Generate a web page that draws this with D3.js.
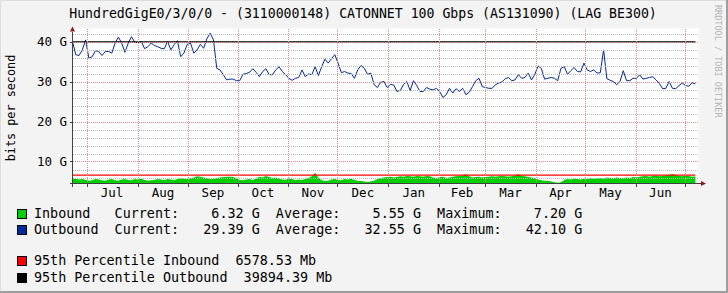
<!DOCTYPE html>
<html>
<head>
<meta charset="utf-8">
<script src="https://d3js.org/d3.v7.min.js"></script>
<style>
  html, body { margin: 0; padding: 0; background: #f3f3f3; }
  svg { display: block; }
  text { font-family: "DejaVu Sans Mono", monospace; white-space: pre; }
</style>
</head>
<body>
<svg id="chart" width="728" height="293"></svg>
<script>
'use strict';

// one sample every 2 days, starting at startDate (UTC)
var startDate = new Date(Date.UTC(2022, 5, 22, 8, 10));
var endDate = new Date(Date.UTC(2023, 6, 9, 13, 0));
var stepDays = 2;

// values in Gbit/s
var outbound = [
    40.0, 36.7, 36.5, 37.9, 40.4, 35.8, 36.2, 37.7, 37.5, 36.5,
    37.5, 37.5, 37.1, 39.6, 41.1, 39.6, 37.3, 39.6, 41.2, 39.8,
    39.7, 40.0, 38.2, 38.7, 39.6, 39.0, 38.7, 38.3, 38.2, 40.0,
    37.9, 39.2, 40.2, 36.2, 37.1, 39.3, 39.6, 37.1, 37.9, 39.3,
    38.3, 40.7, 42.1, 40.4, 33.3, 32.9, 31.7, 30.4, 30.6,
    30.6, 30.2, 30.2, 31.8, 32.0, 32.3, 33.2, 32.3, 31.2, 32.5,
    33.2, 31.7, 31.7, 32.9, 33.7, 32.5, 31.7, 30.8, 30.3, 30.8,
    31.0, 32.9, 31.2, 31.9, 31.7, 33.7, 31.5, 33.7, 35.6, 34.6,
    35.7, 36.7, 34.6, 32.2, 32.5, 32.1, 32.0, 30.8, 32.9, 34.0,
    33.3, 31.8, 32.1, 29.2, 28.5, 29.8, 30.0,
    28.5, 29.3, 29.1, 27.5, 27.8, 29.3, 30.0, 27.7, 30.2, 29.0,
    27.5, 27.5, 28.5, 28.1, 27.9, 28.3, 27.5, 26.0, 26.7, 28.3,
    27.1, 28.2, 27.5, 28.3, 26.7, 27.3, 28.7, 30.2, 30.8, 28.7,
    28.5, 28.3, 28.3, 29.2, 29.6, 29.9, 30.7, 31.0, 30.2, 30.4,
    31.7, 30.8, 31.0, 32.1, 30.4, 31.7, 33.9, 33.3,
    30.6, 30.8, 31.0, 30.8, 30.2, 33.3, 33.7, 31.8, 32.7, 33.5,
    32.5, 32.4, 34.6, 32.9, 32.5, 32.9, 32.1, 32.2, 37.9, 30.7,
    30.3, 30.0, 29.2, 30.0, 32.7, 30.2, 30.2, 30.8, 30.8, 31.7,
    30.6, 30.8, 31.0, 31.2, 30.4, 29.5, 28.2, 28.3, 30.0, 28.3,
    28.2, 29.0, 29.6, 29.0, 28.8, 29.7, 29.4
];

var inbound = [
    5.6, 5.7, 5.5, 5.6, 5.4, 5.2, 5.3, 5.6, 5.5, 5.3,
    5.2, 5.5, 5.6, 5.3, 5.2, 5.5, 5.6, 5.4, 5.3, 5.6,
    5.5, 5.7, 5.4, 5.2, 5.3, 5.4, 5.6, 5.5, 5.3, 5.6,
    5.5, 5.3, 5.6, 5.8, 5.7, 5.6, 5.8, 6.0, 6.3, 6.2,
    6.0, 5.8, 5.6, 5.7, 5.9, 6.0, 6.1, 6.2, 6.2, 6.1,
    5.8, 5.4, 5.3, 5.5, 5.6, 5.4, 5.7, 6.2, 6.0, 6.4,
    6.1, 5.9, 6.0, 5.7, 5.5, 5.4, 5.8, 5.6, 5.3, 5.5,
    5.4, 5.6, 5.9, 6.3, 7.2, 6.0, 5.3, 5.1, 5.2, 5.5,
    5.6, 5.4, 5.3, 5.6, 5.5, 5.7, 5.4, 5.2, 5.1, 5.0,
    4.9, 5.0, 5.2, 5.6, 5.8, 6.0, 6.1, 6.2, 6.0, 6.1,
    6.3, 6.2, 6.4, 6.3, 6.2, 6.4, 6.3, 6.2, 6.4, 6.3,
    6.0, 5.8, 6.1, 6.2, 5.9, 6.0, 6.2, 6.3, 6.4, 6.5,
    6.8, 6.3, 6.0, 6.1, 6.2, 6.0, 6.1, 6.2, 6.3, 6.2,
    6.3, 6.4, 6.3, 6.2, 6.3, 6.5, 6.9, 6.4, 6.3, 6.1,
    6.0, 5.8, 5.5, 5.3, 5.2, 5.2, 5.0, 4.8, 4.7, 4.8,
    5.4, 5.6, 5.5, 5.7, 5.6, 5.5, 5.7, 5.6, 5.8, 5.7,
    5.8, 5.9, 5.7, 6.0, 5.9, 5.8, 6.0, 5.9, 5.8, 6.0,
    5.9, 6.1, 6.0, 6.2, 6.3, 6.4, 6.2, 6.4, 6.5, 6.3,
    6.4, 6.5, 6.6, 6.9, 6.6, 6.4, 6.3, 6.5, 6.4, 6.2, 6.3
];

// 95th percentile lines (Gbit/s)
var pct95In = 6.57853;
var pct95Out = 39.89439;

var yMajorTicks = [10, 20, 30, 40];
var yTickLabels = ["10 G", "20 G", "30 G", "40 G"];
var yMinorTicks = [6, 8, 12, 14, 16, 18, 22, 24, 26, 28, 32, 34, 36, 38, 42];
var monthLabels = ["Jul", "Aug", "Sep", "Oct", "Nov", "Dec",
                   "Jan", "Feb", "Mar", "Apr", "May", "Jun"];

var title = "HundredGigE0/3/0/0 - (3110000148) CATONNET 100 Gbps (AS131090) (LAG BE300)";
var legendRows = [
    { color: "#00CF00", y: 218, text: "Inbound   Current:    6.32 G  Average:    5.55 G  Maximum:    7.20 G" },
    { color: "#002A97", y: 234, text: "Outbound  Current:   29.39 G  Average:   32.55 G  Maximum:   42.10 G" },
    { color: "#FF0000", y: 265, text: "95th Percentile Inbound  6578.53 Mb" },
    { color: "#000000", y: 282, text: "95th Percentile Outbound  39894.39 Mb" }
];

// plot frame
var plotLeft = 72.5, plotRight = 699, plotTop = 28.5, plotBottom = 183.5;

var svg = d3.select('#chart');

// background and 3d border
svg.append('rect').attr('width', 728).attr('height', 293).attr('fill', '#f3f3f3');
svg.append('path').attr('d', 'M0.5,293V0.5H728').attr('stroke', '#dcdcdc').attr('fill', 'none');
svg.append('path').attr('d', 'M0,292H727V0').attr('stroke', '#9e9e9e').attr('stroke-width', 2).attr('fill', 'none');

// canvas
svg.append('rect')
    .attr('x', plotLeft).attr('y', plotTop)
    .attr('width', plotRight - plotLeft).attr('height', plotBottom - plotTop)
    .attr('fill', '#ffffff');

var x = d3.scaleUtc().domain([startDate, endDate]).range([plotLeft, plotRight]);
var y = d3.scaleLinear().domain([4.5, 43.25]).range([plotBottom, plotTop]);

var dateAt = function(i) {
    return d3.utcDay.offset(startDate, i * stepDays);
};

svg.append('clipPath').attr('id', 'plotClip')
    .append('rect')
    .attr('x', plotLeft).attr('y', plotTop)
    .attr('width', plotRight - plotLeft).attr('height', plotBottom - plotTop);

var plot = svg.append('g').attr('clip-path', 'url(#plotClip)');

// inbound area (from zero, clipped by the frame)
var area = d3.area()
    .x(function(d, i) { return x(dateAt(i)); })
    .y0(plotBottom)
    .y1(function(d) { return y(d); });

plot.append('path')
    .datum(inbound)
    .attr('d', area)
    .attr('fill', '#00CF00');

// grid
var grid = svg.append('g').attr('shape-rendering', 'crispEdges').attr('fill', 'none');

yMinorTicks.forEach(function(v) {
    var yy = Math.round(y(v)) + 0.5;
    grid.append('line')
        .attr('x1', plotLeft).attr('x2', plotRight).attr('y1', yy).attr('y2', yy)
        .attr('stroke', '#b8b8b8').attr('stroke-dasharray', '1,1');
});

yMajorTicks.forEach(function(v) {
    var yy = Math.round(y(v)) + 0.5;
    grid.append('line')
        .attr('x1', plotLeft).attr('x2', plotRight).attr('y1', yy).attr('y2', yy)
        .attr('stroke', '#e08a8a').attr('stroke-dasharray', '1,1');
});

var months = d3.utcMonth.range(startDate, endDate);
months.forEach(function(m) {
    var xx = Math.round(x(m)) + 0.5;
    grid.append('line')
        .attr('x1', xx).attr('x2', xx).attr('y1', plotTop).attr('y2', plotBottom)
        .attr('stroke', '#e08a8a').attr('stroke-dasharray', '1,1');
});

// outbound line
var line = d3.line()
    .x(function(d, i) { return x(dateAt(i)); })
    .y(function(d) { return y(d); });

plot.append('path')
    .datum(outbound)
    .attr('d', line)
    .attr('fill', 'none')
    .attr('stroke', '#002A97')
    .attr('stroke-width', 1)
    .attr('stroke-linejoin', 'round');

// 95th percentile lines, up to the last sample
var lastX = x(dateAt(outbound.length - 1));

plot.append('line')
    .attr('x1', plotLeft).attr('x2', lastX)
    .attr('y1', y(pct95In)).attr('y2', y(pct95In))
    .attr('stroke', '#FF0000').attr('stroke-width', 1.3);

plot.append('line')
    .attr('x1', plotLeft).attr('x2', lastX)
    .attr('y1', y(pct95Out)).attr('y2', y(pct95Out))
    .attr('stroke', '#000000').attr('stroke-width', 1.3);

// axes
var axes = svg.append('g').attr('shape-rendering', 'crispEdges');

axes.append('line')
    .attr('x1', plotLeft - 3).attr('x2', plotRight + 2).attr('y1', plotBottom).attr('y2', plotBottom)
    .attr('stroke', '#404040');
axes.append('line')
    .attr('x1', plotLeft).attr('x2', plotLeft).attr('y1', plotBottom + 3).attr('y2', plotTop + 3)
    .attr('stroke', '#404040');

yMajorTicks.forEach(function(v) {
    var yy = Math.round(y(v)) + 0.5;
    axes.append('line')
        .attr('x1', plotLeft - 3).attr('x2', plotLeft).attr('y1', yy).attr('y2', yy)
        .attr('stroke', '#404040');
});

months.forEach(function(m) {
    var xx = Math.round(x(m)) + 0.5;
    axes.append('line')
        .attr('x1', xx).attr('x2', xx).attr('y1', plotBottom).attr('y2', plotBottom + 3)
        .attr('stroke', '#404040');
});

// arrows
svg.append('path')
    .attr('d', 'M' + (plotLeft - 2.5) + ',' + (plotTop + 3) + 'L' + plotLeft + ',' + (plotTop - 2) + 'L' + (plotLeft + 2.5) + ',' + (plotTop + 3) + 'Z')
    .attr('fill', '#8b1a1a');
svg.append('path')
    .attr('d', 'M' + (plotRight + 2) + ',' + (plotBottom - 2.5) + 'L' + (plotRight + 7) + ',' + plotBottom + 'L' + (plotRight + 2) + ',' + (plotBottom + 2.5) + 'Z')
    .attr('fill', '#8b1a1a');

// y tick labels
yMajorTicks.forEach(function(v, i) {
    svg.append('text')
        .attr('x', 67).attr('y', y(v) + 4.5)
        .attr('text-anchor', 'end')
        .attr('font-size', 12.5)
        .attr('fill', '#000')
        .text(yTickLabels[i]);
});

// month labels, centred in each month
months.forEach(function(m, i) {
    var next = d3.utcMonth.offset(m, 1);
    var mid = new Date((m.getTime() + next.getTime()) / 2);
    if (mid > endDate || i >= monthLabels.length) return;
    svg.append('text')
        .attr('x', x(mid)).attr('y', 197)
        .attr('text-anchor', 'middle')
        .attr('font-size', 12.5)
        .attr('fill', '#000')
        .text(monthLabels[i]);
});

// title
svg.append('text')
    .attr('x', 363).attr('y', 18)
    .attr('text-anchor', 'middle')
    .attr('font-size', 13.2)
    .attr('fill', '#000')
    .text(title);

// vertical axis label
svg.append('text')
    .attr('transform', 'translate(15,108) rotate(-90)')
    .attr('text-anchor', 'middle')
    .attr('font-size', 11.8)
    .attr('fill', '#000')
    .text('bits per second');

// watermark
svg.append('text')
    .attr('transform', 'translate(714.5,5) rotate(90)')
    .attr('font-size', 8.5)
    .attr('fill', '#b4b4b4')
    .text('RRDTOOL / TOBI OETIKER');

// legend
legendRows.forEach(function(r) {
    svg.append('rect')
        .attr('x', 17.5).attr('y', r.y - 8.5)
        .attr('width', 9).attr('height', 9)
        .attr('fill', r.color)
        .attr('stroke', '#000')
        .attr('shape-rendering', 'crispEdges');
    svg.append('text')
        .attr('x', 34).attr('y', r.y)
        .attr('xml:space', 'preserve')
        .attr('font-size', 13.4)
        .attr('fill', '#000')
        .text(r.text);
});
</script>
</body>
</html>
